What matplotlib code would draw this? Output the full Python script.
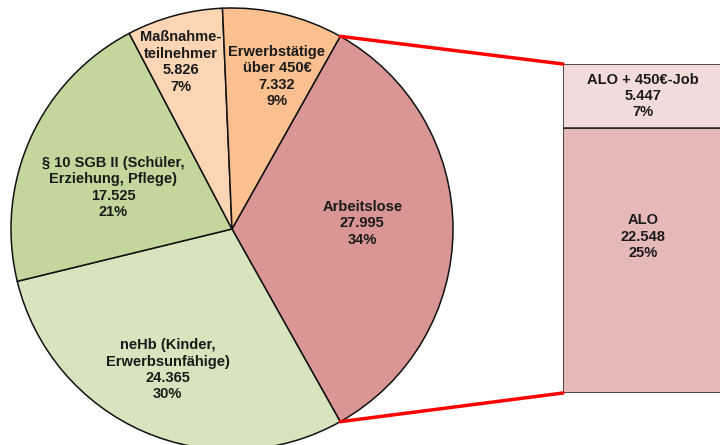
import numpy as np
import matplotlib
matplotlib.use("Agg")
import matplotlib.pyplot as plt
from matplotlib.patches import ConnectionPatch

plt.rcParams['font.family'] = ['Liberation Sans', 'DejaVu Sans']

# Pie data (clockwise, starting with the exploded slice)
pie_labels = ["Arbeitslose", "neHb (Kinder,\nErwerbsunfähige)",
              "§ 10 SGB II (Schüler,\nErziehung, Pflege)",
              "Maßnahme-\nteilnehmer", "Erwerbstätige\nüber 450€"]
pie_values = [27995, 24365, 17525, 5826, 7332]
pie_pcts = [34, 30, 21, 7, 9]
pie_colors = ["#D99694", "#D7E4BD", "#C3D69B", "#FCD5B5", "#FAC090"]

# Breakdown of "Arbeitslose" (bottom to top)
bar_labels = ["ALO", "ALO + 450€-Job"]
bar_values = [22548, 5447]
bar_pcts = [25, 7]
bar_colors = ["#E6B9B8", "#F2DCDB"]


def fmt(v):
    return f"{v:,}".replace(",", ".")


fig = plt.figure(figsize=(7.2, 4.45), dpi=100)
ax = fig.add_axes([0, 0, 1, 1])

cx, cy, r = 232, 216, 221
total = sum(pie_values)
start = 180 * pie_values[0] / total  # first slice centred on the right

wedges, _ = ax.pie(pie_values, colors=pie_colors, startangle=start,
                   counterclock=False, center=(cx, cy), radius=r,
                   wedgeprops=dict(edgecolor="#111111", linewidth=1.1))

# label placement: radius fraction and angle shift from the wedge middle
lab_r = [0.59, 0.70, 0.57, 0.79, 0.72]
lab_dang = [2.5, -1, 5, 2, -3]
for w, lab, v, p, lr, da in zip(wedges, pie_labels, pie_values, pie_pcts, lab_r, lab_dang):
    ang = np.deg2rad((w.theta1 + w.theta2) / 2 + da)
    ax.text(cx + lr * r * np.cos(ang), cy + lr * r * np.sin(ang),
            f"{lab}\n{fmt(v)}\n{p}%", ha="center", va="center",
            fontsize=10.5, fontweight="bold", color="#1a1a1a", linespacing=1.22)

ax.set_xlim(0, 720)
ax.set_ylim(0, 445)
ax.set_aspect("equal")
ax.axis("off")

# stacked bar on its own axes
bax = fig.add_axes([563 / 720, 52 / 445, 160 / 720, 329 / 445])
bottom = 0
for v, lab, p, c in zip(bar_values, bar_labels, bar_pcts, bar_colors):
    bax.bar(0, v, bottom=bottom, width=1, align="edge", color=c,
            edgecolor="#222222", linewidth=1.1)
    bax.text(0.5, bottom + v * (0.59 if v > 10000 else 0.5),
             f"{lab}\n{fmt(v)}\n{p}%", ha="center", va="center",
             fontsize=10.5, fontweight="bold", color="#1a1a1a", linespacing=1.22)
    bottom += v
bax.set_xlim(0, 1)
bax.set_ylim(0, sum(bar_values))
bax.axis("off")

# red connector lines
t1 = np.deg2rad(wedges[0].theta1)
t2 = np.deg2rad(wedges[0].theta2)
for t, yb in [(t2, sum(bar_values)), (t1, 0)]:
    con = ConnectionPatch(xyA=(cx + r * np.cos(t), cy + r * np.sin(t)), coordsA=ax.transData,
                          xyB=(0, yb), coordsB=bax.transData,
                          color="red", linewidth=2.5, zorder=5)
    fig.add_artist(con)

fig.savefig("out.png", dpi=100)
